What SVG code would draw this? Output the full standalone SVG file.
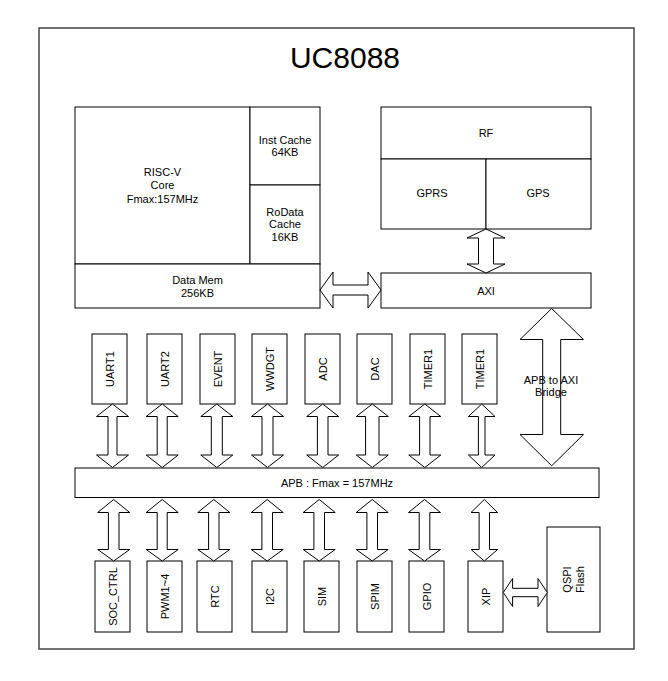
<svg xmlns="http://www.w3.org/2000/svg" width="668" height="681" viewBox="0 0 668 681">
<style>
.b{fill:#fff;stroke:#000;stroke-width:1}
.f{fill:#fff;stroke:#444;stroke-width:1.5}
.a{fill:#fff;stroke:#000;stroke-width:1;stroke-linejoin:miter}
text{font-family:"Liberation Sans",Arial,sans-serif;font-size:11px;fill:#000;text-anchor:middle}
.t{font-size:30px}
</style>
<rect width="668" height="681" fill="#fff"/>
<g id="frame">
<rect class="f" x="39" y="28" width="595" height="621"/>
<text class="t" x="345" y="67.5">UC8088</text>
</g>
<g id="cpu">
<rect class="b" x="75" y="107" width="175" height="157"/>
<text x="162.5" y="175.5">RISC-V</text>
<text x="162.5" y="189">Core</text>
<text x="162.5" y="202.5">Fmax:157MHz</text>
</g>
<g id="icache">
<rect class="b" x="250" y="107" width="70" height="78"/>
<text x="285" y="144">Inst Cache</text>
<text x="285" y="156.3">64KB</text>
</g>
<g id="rodata">
<rect class="b" x="250" y="185" width="70" height="79"/>
<text x="285" y="216">RoData</text>
<text x="285" y="228.3">Cache</text>
<text x="285" y="240.6">16KB</text>
</g>
<g id="datamem">
<rect class="b" x="75" y="264" width="245" height="44"/>
<text x="197.5" y="284">Data Mem</text>
<text x="197.5" y="296.5">256KB</text>
</g>
<g id="rf">
<rect class="b" x="381" y="107" width="210" height="52"/>
<text x="486" y="137">RF</text>
</g>
<g id="gprs">
<rect class="b" x="381" y="159" width="105" height="70"/>
<text x="432" y="196.5">GPRS</text>
</g>
<g id="gps">
<rect class="b" x="486" y="159" width="105" height="70"/>
<text x="538" y="196.5">GPS</text>
</g>
<g id="axi">
<rect class="b" x="381" y="273" width="210" height="35"/>
<text x="486" y="294.5">AXI</text>
</g>
<g id="apb">
<rect class="b" x="75" y="468" width="524" height="29.5"/>
<text x="337" y="486.7">APB : Fmax = 157MHz</text>
</g>
<g id="uart1"><rect class="b" x="92" y="334" width="35" height="70"/><text transform="rotate(-90 109.5 369)" x="109.5" y="373">UART1</text></g>
<g id="uart2"><rect class="b" x="147" y="334" width="35" height="70"/><text transform="rotate(-90 164.5 369)" x="164.5" y="373">UART2</text></g>
<g id="event"><rect class="b" x="200" y="334" width="35" height="70"/><text transform="rotate(-90 217.5 369)" x="217.5" y="373">EVENT</text></g>
<g id="wwdgt"><rect class="b" x="252" y="334" width="35" height="70"/><text transform="rotate(-90 269.5 369)" x="269.5" y="373">WWDGT</text></g>
<g id="adc"><rect class="b" x="305" y="334" width="35" height="70"/><text transform="rotate(-90 322.5 369)" x="322.5" y="373">ADC</text></g>
<g id="dac"><rect class="b" x="357" y="334" width="35" height="70"/><text transform="rotate(-90 374.5 369)" x="374.5" y="373">DAC</text></g>
<g id="timer1a"><rect class="b" x="410" y="334" width="35" height="70"/><text transform="rotate(-90 427.5 369)" x="427.5" y="373">TIMER1</text></g>
<g id="timer1b"><rect class="b" x="462" y="334" width="35" height="70"/><text transform="rotate(-90 479.5 369)" x="479.5" y="373">TIMER1</text></g>
<g id="soc_ctrl"><rect class="b" x="95" y="561" width="35" height="71"/><text transform="rotate(-90 112.5 596.5)" x="112.5" y="600.5">SOC_CTRL</text></g>
<g id="pwm"><rect class="b" x="147" y="561" width="35" height="71"/><text transform="rotate(-90 164.5 596.5)" x="164.5" y="600.5">PWM1~4</text></g>
<g id="rtc"><rect class="b" x="197" y="561" width="35" height="71"/><text transform="rotate(-90 214.5 596.5)" x="214.5" y="600.5">RTC</text></g>
<g id="i2c"><rect class="b" x="252" y="561" width="35" height="71"/><text transform="rotate(-90 269.5 596.5)" x="269.5" y="600.5">I2C</text></g>
<g id="sim"><rect class="b" x="304" y="561" width="35" height="71"/><text transform="rotate(-90 321.5 596.5)" x="321.5" y="600.5">SIM</text></g>
<g id="spim"><rect class="b" x="357" y="561" width="35" height="71"/><text transform="rotate(-90 374.5 596.5)" x="374.5" y="600.5">SPIM</text></g>
<g id="gpio"><rect class="b" x="409" y="561" width="35" height="71"/><text transform="rotate(-90 426.5 596.5)" x="426.5" y="600.5">GPIO</text></g>
<g id="xip"><rect class="b" x="468" y="561" width="35" height="71"/><text transform="rotate(-90 485.5 596.5)" x="485.5" y="600.5">XIP</text></g>
<g id="qspi"><rect class="b" x="547" y="527" width="53" height="105"/><text transform="rotate(-90 573.5 579.5)" x="573.5" y="577.2">QSPI</text><text transform="rotate(-90 573.5 579.5)" x="573.5" y="589.8">Flash</text></g>
<g id="connectors">
<polygon class="a" points="486,229 505,238 493.5,238 493.5,264 505,264 486,273 467,264 478.5,264 478.5,238 467,238"/>
<polygon class="a" points="320,290 333,272 333,285 368,285 368,272 381,290 368,308 368,295 333,295 333,308"/>
<polygon class="a" points="551.7,308.5 583.4,339.5 560.7,339.5 560.7,434.5 583.4,434.5 551.7,465.8 520,434.5 542.7,434.5 542.7,339.5 520,339.5"/>
<polygon class="a" points="112.5,404 128.5,416.5 117,416.5 117,455 128.5,455 112.5,467.5 96.5,455 108,455 108,416.5 96.5,416.5"/>
<polygon class="a" points="162.2,404 178.2,416.5 167.2,416.5 167.2,455 178.2,455 162.2,467.5 146.2,455 157.2,455 157.2,416.5 146.2,416.5"/>
<polygon class="a" points="216.8,404 232.8,416.5 222.3,416.5 222.3,455 232.8,455 216.8,467.5 200.8,455 211.3,455 211.3,416.5 200.8,416.5"/>
<polygon class="a" points="267.5,404 283.5,416.5 273,416.5 273,455 283.5,455 267.5,467.5 251.5,455 262,455 262,416.5 251.5,416.5"/>
<polygon class="a" points="322.7,404 338.7,416.5 328,416.5 328,455 338.7,455 322.7,467.5 306.7,455 317.4,455 317.4,416.5 306.7,416.5"/>
<polygon class="a" points="372.3,404 388.3,416.5 379,416.5 379,455 388.3,455 372.3,467.5 356.3,455 365.6,455 365.6,416.5 356.3,416.5"/>
<polygon class="a" points="424.8,404 440.8,416.5 430,416.5 430,455 440.8,455 424.8,467.5 408.8,455 419.6,455 419.6,416.5 408.8,416.5"/>
<polygon class="a" points="481.7,404 495,416.5 485,416.5 485,455 495,455 481.7,467.5 468.4,455 478.4,455 478.4,416.5 468.4,416.5"/>
<polygon class="a" points="113.7,499.5 129.7,512.5 119,512.5 119,549.5 129.7,549.5 113.7,561 97.7,549.5 108.4,549.5 108.4,512.5 97.7,512.5"/>
<polygon class="a" points="162.2,499.5 178.2,512.5 167.2,512.5 167.2,549.5 178.2,549.5 162.2,561 146.2,549.5 157.2,549.5 157.2,512.5 146.2,512.5"/>
<polygon class="a" points="213.8,499.5 229.8,512.5 219,512.5 219,549.5 229.8,549.5 213.8,561 197.8,549.5 208.6,549.5 208.6,512.5 197.8,512.5"/>
<polygon class="a" points="267.2,499.5 283.2,512.5 272.5,512.5 272.5,549.5 283.2,549.5 267.2,561 251.2,549.5 261.9,549.5 261.9,512.5 251.2,512.5"/>
<polygon class="a" points="319.2,499.5 335.2,512.5 324.5,512.5 324.5,549.5 335.2,549.5 319.2,561 303.2,549.5 313.9,549.5 313.9,512.5 303.2,512.5"/>
<polygon class="a" points="372.2,499.5 388.2,512.5 377.5,512.5 377.5,549.5 388.2,549.5 372.2,561 356.2,549.5 366.9,549.5 366.9,512.5 356.2,512.5"/>
<polygon class="a" points="424.5,499.5 440.5,512.5 429.8,512.5 429.8,549.5 440.5,549.5 424.5,561 408.5,549.5 419.2,549.5 419.2,512.5 408.5,512.5"/>
<polygon class="a" points="484.3,499.5 497.6,512.5 489.5,512.5 489.5,549.5 497.6,549.5 484.3,561 471,549.5 479.1,549.5 479.1,512.5 471,512.5"/>
<polygon class="a" points="503.3,592.5 512.6,578.5 512.6,588.3 538,588.3 538,578.5 547.3,592.5 538,606.5 538,596.7 512.6,596.7 512.6,606.5"/>
</g>
<g id="bridge-label"><text x="551" y="383.5">APB to AXI</text><text x="551" y="395.5">Bridge</text></g>
</svg>
